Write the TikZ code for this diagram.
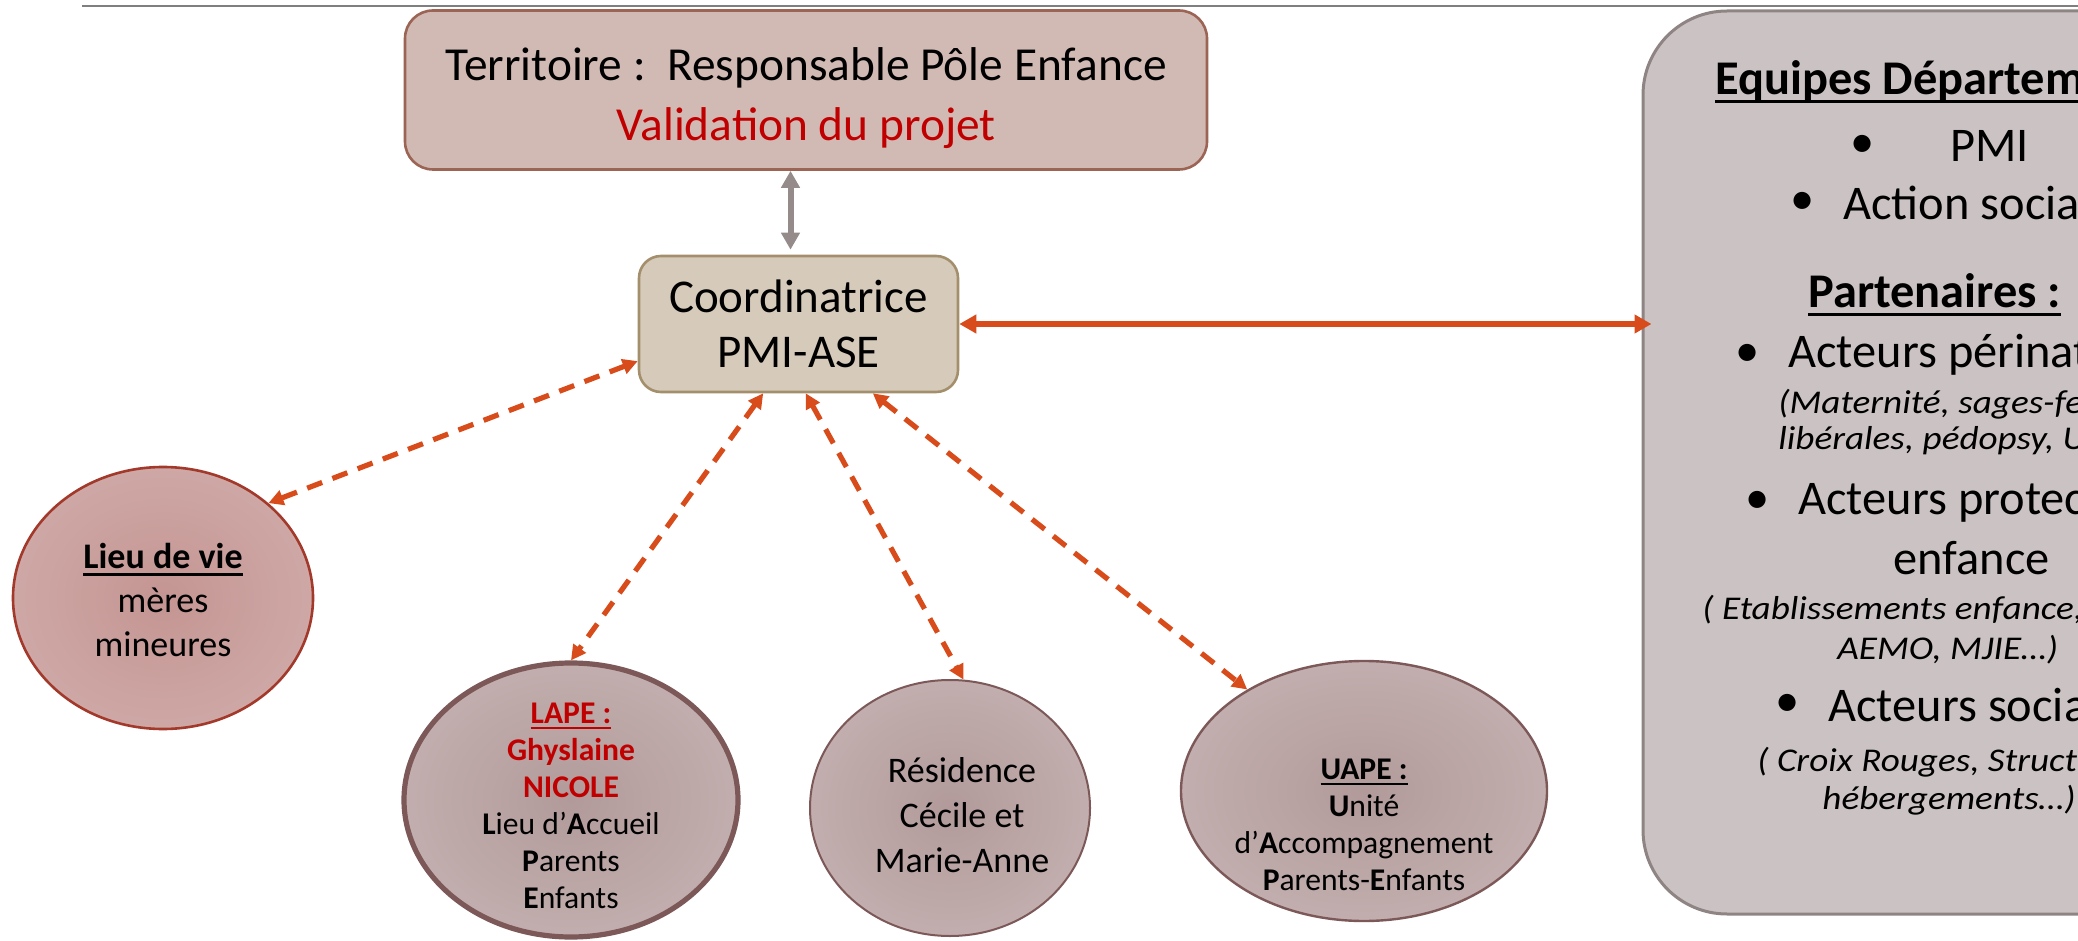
\documentclass[tikz,border=0pt]{standalone}
\usepackage{fontspec}
\setmainfont{Carlito}
\newfontfamily\italfont[FakeStretch=1.12]{Carlito}
\newcommand\souligne[1]{\vtop{\hbox{\raisebox{0pt}[\height][0pt]{#1}}\kern0.12em\hrule height0.065em}}
\usetikzlibrary{shapes.geometric, arrows.meta}

\definecolor{filet}{HTML}{7F7F7F}
\definecolor{rouge}{HTML}{C00000}
\definecolor{orangelien}{HTML}{D84B1A}
\definecolor{grislien}{HTML}{958B8B}
\definecolor{hautfond}{HTML}{D2BAB4}
\definecolor{hautbord}{HTML}{9C6454}
\definecolor{coordfond}{HTML}{D6CBBB}
\definecolor{coordbord}{HTML}{A38F6B}
\definecolor{panfond}{HTML}{CBC3C3}
\definecolor{panbord}{HTML}{8E8484}
\definecolor{lieuint}{HTML}{C49592}
\definecolor{lieuext}{HTML}{CEA8A6}
\definecolor{lieubord}{HTML}{A3392B}
\definecolor{bulleint}{HTML}{B29A9A}
\definecolor{bulleext}{HTML}{C2AEAE}
\definecolor{bullebord}{HTML}{7D5858}

\begin{document}
\begin{tikzpicture}[x=0.5pt, y=-0.5pt,
    boite/.style={draw, line width=1.3pt, inner sep=0pt, align=center},
    bulle/.style={ellipse, draw=bullebord, line width=1pt, inner sep=0pt,
      inner color=bulleint, outer color=bulleext},
    moyen/.style={align=center, inner sep=0pt, font=\fontsize{18}{21.8}\selectfont},
    petit/.style={align=center, inner sep=0pt, font=\fontsize{15.8}{18.5}\selectfont},
    grandtxt/.style={anchor=west, inner sep=0pt, font=\fontsize{24.2}{29}\selectfont},
    italtxt/.style={anchor=west, inner sep=0pt, font=\italfont\itshape\fontsize{16.6}{20}\selectfont},
    lien/.style={orangelien, line width=2.6pt, dash pattern=on 8pt off 5.5pt,
      {Triangle[length=7.5pt,width=7.5pt]}-{Triangle[length=7.5pt,width=7.5pt]}},
    plein/.style={orangelien, line width=3.3pt,
      {Triangle[length=8.5pt,width=9pt]}-{Triangle[length=8.5pt,width=9pt]}},
    gris/.style={grislien, line width=3pt,
      {Triangle[length=8.5pt,width=9pt]}-{Triangle[length=8.5pt,width=9pt]}}]
  \useasboundingbox (0,0) rectangle (2078,941);
  \clip (0,0) rectangle (2078,941);
  \draw[filet, line width=1.2pt] (82,6) -- (2078,6);

  % cadres du haut
  \node[boite, fill=hautfond, draw=hautbord, rounded corners=14pt,
    minimum width=401pt, minimum height=79.5pt] (territoire) at (806,90) {};
  \node[align=center, inner sep=0pt, font=\fontsize{23.7}{30}\selectfont] (territoiretxt) at (806,98)
    {Territoire :\ \ Responsable Pôle Enfance\\ \textcolor{rouge}{Validation du projet}};
  \node[boite, fill=coordfond, draw=coordbord, rounded corners=11pt,
    minimum width=159.5pt, minimum height=68pt,
    font=\fontsize{23.5}{27.5}\selectfont] (coord) at (798.5,324) {Coordinatrice\\PMI-ASE};

  % panneau de droite
  \node[boite, fill=panfond, draw=panbord, line width=1.5pt, rounded corners=42pt,
    minimum width=305pt, minimum height=451.5pt] (panneau) at (1948,462.5) {};
  \node[grandtxt] (equipes) at (1715,82) {\souligne{\textbf{Equipes Départementales}}};
  \node[grandtxt] (puce1) at (1850,146) {•};
  \node[grandtxt] (pmi) at (1950,146) {PMI};
  \node[grandtxt] (puce2) at (1790,203) {•};
  \node[grandtxt] (action) at (1843,203) {Action sociale};
  \node[grandtxt] (partenaires) at (1808,295) {\souligne{\textbf{Partenaires :}}};
  \node[grandtxt] (puce3) at (1735,355) {•};
  \node[grandtxt] (perinat) at (1788,355) {Acteurs périnatalité};
  \node[italtxt] (perinat1) at (1778,404) {(Maternité, sages-femmes};
  \node[italtxt] (perinat2) at (1778,440) {libérales, pédopsy, UAPE…)};
  \node[grandtxt] (puce4) at (1745,502) {•};
  \node[grandtxt] (protec) at (1798,502) {Acteurs protection};
  \node[grandtxt] (protec1) at (1893,558) {enfance};
  \node[italtxt] (protec2) at (1702,610) {( Etablissements enfance, MECS,};
  \node[italtxt] (protec3) at (1837,650) {AEMO, MJIE…)};
  \node[grandtxt] (puce5) at (1775,705) {•};
  \node[grandtxt] (social) at (1828,705) {Acteurs sociaux};
  \node[italtxt] (social1) at (1757,762) {( Croix Rouges, Structures d’};
  \node[italtxt] (social2) at (1822,800) {hébergements…)};

  % lieux d'accueil
  \node[bulle, draw=lieubord, line width=1.3pt, inner color=lieuint, outer color=lieuext,
    minimum width=150pt, minimum height=131pt] (lieu) at (163,598) {};
  \node[moyen] (lieutxt) at (163,600) {\souligne{\textbf{Lieu de vie}}\\mères\\mineures};
  \node[bulle, line width=2.6pt, minimum width=167pt, minimum height=137pt] (lape) at (571,800) {};
  \node[petit] (lapetxt) at (571,806) {\textcolor{rouge}{\souligne{\textbf{LAPE :}}}\\
    \textcolor{rouge}{\textbf{Ghyslaine}}\\ \textcolor{rouge}{\textbf{NICOLE}}\\
    \textbf{L}ieu d’\textbf{A}ccueil\\ \textbf{P}arents\\ \textbf{E}nfants};
  \node[bulle, minimum width=140pt, minimum height=128pt] (res) at (950,808) {};
  \node[moyen, font=\fontsize{18}{22.5}\selectfont] (restxt) at (962,815) {Résidence\\Cécile et\\Marie-Anne};
  \node[bulle, line width=1.2pt, minimum width=183pt, minimum height=130pt] (uape) at (1364,791) {};
  \node[petit] (uapetxt) at (1364,825) {\souligne{\textbf{UAPE :}}\\ \textbf{U}nité\\
    d’\textbf{A}ccompagnement\\ \textbf{P}arents-\textbf{E}nfants};

  % liens
  \draw[gris, shorten <=2.5pt] ([xshift=-4pt]coord.north) -- ([xshift=-4pt]coord.north |- territoire.south);
  \draw[plein, shorten >=-5pt] (coord.east) -- (coord.east -| panneau.west);
  \draw[lien] (coord.193) -- (lieu.42);
  \draw[lien] (coord.243) -- (lape.north);
  \draw[lien] (coord.276) -- (res.84);
  \draw[lien] (coord.317) -- (uape.139);
\end{tikzpicture}
\end{document}
